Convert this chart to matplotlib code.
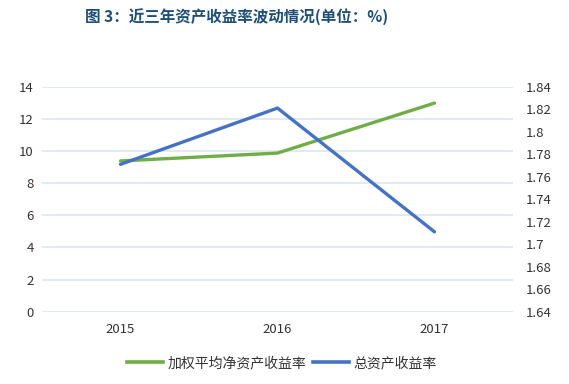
import matplotlib
matplotlib.use('Agg')
import matplotlib.pyplot as plt

plt.rcParams['font.family'] = ['Noto Sans CJK SC', 'DejaVu Sans']

years = ['2015', '2016', '2017']
roe_weighted = [9.38, 9.87, 12.98]   # 加权平均净资产收益率, left axis
roa_total = [1.771, 1.821, 1.711]    # 总资产收益率, right axis

green = '#70AD47'
blue = '#4472C4'
grid_color = '#DCE6F2'
tick_color = '#333333'

fig = plt.figure(figsize=(5.69, 3.84), dpi=100, facecolor='white')
ax = fig.add_axes([42 / 569, 1 - 311.7 / 384, 471 / 569, 225 / 384])
ax2 = ax.twinx()

x = range(len(years))
ax.plot(x, roe_weighted, color=green, linewidth=2.4, solid_capstyle='round', zorder=3)
ax2.plot(x, roa_total, color=blue, linewidth=2.4, solid_capstyle='round', zorder=3)

ax.set_xlim(-0.5, 2.5)
ax.set_ylim(0, 14)
ax.set_yticks(range(0, 15, 2))
ax2.set_ylim(1.64, 1.84)
ax2.set_yticks([1.64 + 0.02 * i for i in range(11)])
ax2.set_yticklabels(['1.64', '1.66', '1.68', '1.7', '1.72', '1.74', '1.76',
                     '1.78', '1.8', '1.82', '1.84'])
ax.set_xticks(list(x))
ax.set_xticklabels(years)

ax.yaxis.grid(True, color=grid_color, linewidth=1.2)
ax.set_axisbelow(True)
for a in (ax, ax2):
    for s in a.spines.values():
        s.set_visible(False)
    a.tick_params(length=0, labelsize=9.5, colors=tick_color)
ax.tick_params(axis='y', pad=6)
ax2.tick_params(axis='y', pad=9)
ax.tick_params(axis='x', pad=8)

fig.text(237 / 569, 1 - 17 / 384, '图 3：近三年资产收益率波动情况(单位：%)', ha='center', va='center',
         fontsize=11.2, fontweight='bold', color='#1F4E79')

h1, = ax.plot([], [], color=green, linewidth=2.6, label='加权平均净资产收益率')
h2, = ax.plot([], [], color=blue, linewidth=2.6, label='总资产收益率')
fig.legend(handles=[h1, h2], loc='center', bbox_to_anchor=(282 / 569, 1 - 363 / 384), ncol=2,
           frameon=False, fontsize=10, handlelength=2.6, columnspacing=0.5, handletextpad=0.3,
           labelcolor='#333333')

fig.savefig('out.png', dpi=100, facecolor='white')
